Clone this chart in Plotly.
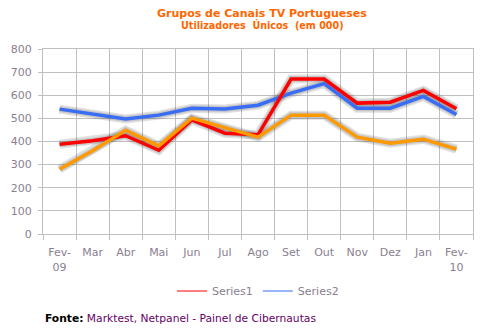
import plotly.graph_objects as go

months = ["Fev-<br>09", "Mar", "Abr", "Mai", "Jun", "Jul", "Ago", "Set", "Out", "Nov", "Dez", "Jan", "Fev-<br>10"]
series1 = [388, 403, 425, 362, 494, 436, 429, 670, 670, 566, 570, 621, 542]
series2 = [540, 520, 497, 514, 544, 541, 557, 609, 650, 544, 544, 595, 517]
series3 = [280, 360, 449, 381, 501, 459, 419, 514, 514, 419, 393, 410, 367]
y_ticks = [0, 100, 200, 300, 400, 500, 600, 700, 800]

RED = "#FF0000"
BLUE = "#3A6DF5"
ORANGE = "#FF9900"
FONT = "DejaVu Sans"
TICKC = "#8A8090"

W, H = 487, 331
L, R, T, B = 43, 14, 49, 97
pw, ph = W - L - R, H - T - B


def px(x):
    return (x - L) / pw


def py(y):
    return 1 - (y - T) / ph


fig = go.Figure()

# shadows
for s in (series2, series1, series3):
    fig.add_trace(go.Scatter(x=months, y=s, mode="lines", showlegend=False, hoverinfo="skip",
                             line=dict(color="rgba(60,60,60,0.16)", width=9)))
    fig.add_trace(go.Scatter(x=months, y=s, mode="lines", showlegend=False, hoverinfo="skip",
                             line=dict(color="rgba(60,60,60,0.16)", width=6)))

fig.add_trace(go.Scatter(x=months, y=series2, mode="lines", showlegend=False,
                         line=dict(color=BLUE, width=3.5)))
fig.add_trace(go.Scatter(x=months, y=series1, mode="lines", showlegend=False,
                         line=dict(color=RED, width=3.5)))
fig.add_trace(go.Scatter(x=months, y=series3, mode="lines", showlegend=False,
                         line=dict(color=ORANGE, width=3.5)))

# legend entries
fig.add_trace(go.Scatter(x=[None], y=[None], mode="lines", name="Series1",
                         line=dict(color=RED, width=1.2)))
fig.add_trace(go.Scatter(x=[None], y=[None], mode="lines", name="Series2",
                         line=dict(color=BLUE, width=1.2)))

fig.update_layout(
    width=W, height=H,
    margin=dict(l=L, r=R, t=T, b=B),
    paper_bgcolor="white", plot_bgcolor="white",
    font=dict(family=FONT, size=11, color=TICKC),
    showlegend=True,
    legend=dict(orientation="h", x=0.5, xanchor="center", y=py(291), yanchor="middle",
                font=dict(size=11, color=TICKC), itemwidth=30,
                tracegroupgap=0, bgcolor="rgba(0,0,0,0)"),
    xaxis=dict(type="category", categoryorder="array", categoryarray=months,
               tickson="boundaries", ticks="outside", ticklen=5, tickcolor="#C0C0C0",
               showgrid=True, gridcolor="#C0C0C0", gridwidth=1,
               showline=True, linecolor="#C0C0C0", mirror=True,
               tickfont=dict(size=11, color=TICKC), tickangle=0, ticklabelstandoff=8,
               range=[-0.5, 12.5], fixedrange=True),
    yaxis=dict(range=[0, 800], tickvals=y_ticks, ticks="outside", ticklen=4,
               tickcolor="#C0C0C0", showgrid=True, gridcolor="#C0C0C0", gridwidth=1,
               showline=True, linecolor="#C0C0C0", mirror=True, zeroline=False,
               tickfont=dict(size=11, color=TICKC), ticklabelstandoff=4, fixedrange=True),
)

fig.add_annotation(text="<b>Grupos de Canais TV Portugueses</b>", x=px(262), y=py(13),
                   xref="paper", yref="paper", showarrow=False, xanchor="center", yanchor="middle",
                   font=dict(size=11, color="#FF6600", family=FONT))
fig.add_annotation(text="<b>Utilizadores  Únicos  (em 000)</b>", x=px(262), y=py(25),
                   xref="paper", yref="paper", showarrow=False, xanchor="center", yanchor="middle",
                   font=dict(size=9.6, color="#FF6600", family=FONT))
fig.add_annotation(text="<b>Fonte:</b> <span style='color:#660066'>Marktest, Netpanel - Painel de Cibernautas</span>",
                   x=px(43), y=py(318), xref="paper", yref="paper", showarrow=False,
                   xanchor="left", yanchor="middle", font=dict(size=10.7, color="#000000", family=FONT))

fig.write_html("out.html")
